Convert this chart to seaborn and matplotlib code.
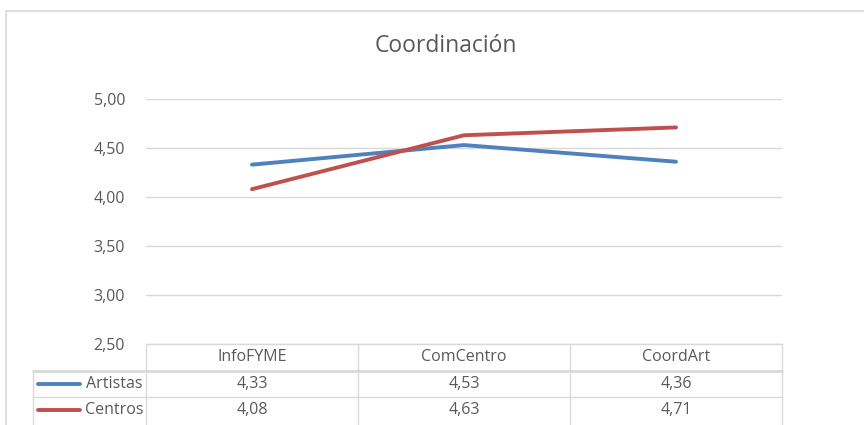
import matplotlib
matplotlib.use("Agg")
import matplotlib.pyplot as plt
from matplotlib.lines import Line2D
import seaborn as sns
import pandas as pd

categories = ["InfoFYME", "ComCentro", "CoordArt"]
series_names = ["Artistas", "Centros"]
artistas = [4.33, 4.53, 4.36]
centros = [4.08, 4.63, 4.71]
y_ticks = [2.5, 3.0, 3.5, 4.0, 4.5, 5.0]
title = "Coordinación"

colors = {"Artistas": "#4F81BD", "Centros": "#C0504D"}

sns.set_theme(style="white")
plt.rcParams["font.family"] = ["Open Sans", "DejaVu Sans"]

W, H = 864, 425
fig = plt.figure(figsize=(W / 100, H / 100), dpi=100)

def fx(px):
    return px / W

def fy(py):
    return 1 - py / H

L, R, T, B = 146, 782, 99, 344
ax = fig.add_axes([fx(L), fy(B), fx(R) - fx(L), fy(T) - fy(B)])

df = pd.DataFrame({
    "cat": list(range(len(categories))) * 2,
    "value": artistas + centros,
    "serie": [series_names[0]] * 3 + [series_names[1]] * 3,
})
sns.lineplot(data=df, x="cat", y="value", hue="serie", palette=colors,
             linewidth=2.8, ax=ax, legend=False, sort=False)
for ln in ax.lines:
    ln.set_solid_capstyle("round")

ax.set_xlim(-0.5, len(categories) - 0.5)
ax.set_ylim(y_ticks[0], y_ticks[-1])
ax.set_yticks(y_ticks)
ax.set_yticklabels([f"{v:.2f}".replace(".", ",") for v in y_ticks],
                   fontsize=11.5, color="#595959")
ax.tick_params(axis="y", length=0, pad=15)
ax.set_xticks([])
ax.set_xlabel("")
ax.set_ylabel("")
ax.grid(axis="y", color="#D9D9D9", linewidth=1)
for s in ax.spines.values():
    s.set_visible(False)

# chart border
fig.add_artist(Line2D([fx(6), fx(W)], [fy(11), fy(11)], color="#D9D9D9", lw=1.2))
fig.add_artist(Line2D([fx(6), fx(6)], [fy(11), fy(H)], color="#D9D9D9", lw=1.2))

fig.text(fx(446), fy(46), title, ha="center", va="center", fontsize=16.5, color="#595959")

# data table
gc = "#D9D9D9"
col_edges = [146, 358, 570, 782]
for x in col_edges:
    fig.add_artist(Line2D([fx(x), fx(x)], [fy(344), fy(H)], color=gc, lw=1))
fig.add_artist(Line2D([fx(146), fx(782)], [fy(344), fy(344)], color=gc, lw=1))
fig.add_artist(Line2D([fx(33), fx(782)], [fy(371), fy(371)], color=gc, lw=2))
fig.add_artist(Line2D([fx(33), fx(782)], [fy(397), fy(397)], color=gc, lw=1))
fig.add_artist(Line2D([fx(33), fx(33)], [fy(371), fy(H)], color=gc, lw=1))

tc = "#595959"
fs = 11.5
centers = [(col_edges[i] + col_edges[i + 1]) / 2 for i in range(3)]
for cx, c in zip(centers, categories):
    fig.text(fx(cx), fy(357), c, ha="center", va="center", fontsize=fs, color=tc)

row_centers = [384, 410]
for ry, name, vals in zip(row_centers, series_names, [artistas, centros]):
    fig.add_artist(Line2D([fx(38), fx(80)], [fy(ry), fy(ry)], color=colors[name],
                          lw=2.8, solid_capstyle="round"))
    fig.text(fx(143), fy(ry), name, ha="right", va="center", fontsize=fs, color=tc)
    for cx, v in zip(centers, vals):
        fig.text(fx(cx), fy(ry), f"{v:.2f}".replace(".", ","), ha="center",
                 va="center", fontsize=fs, color=tc)

fig.savefig("out.png", dpi=100)
